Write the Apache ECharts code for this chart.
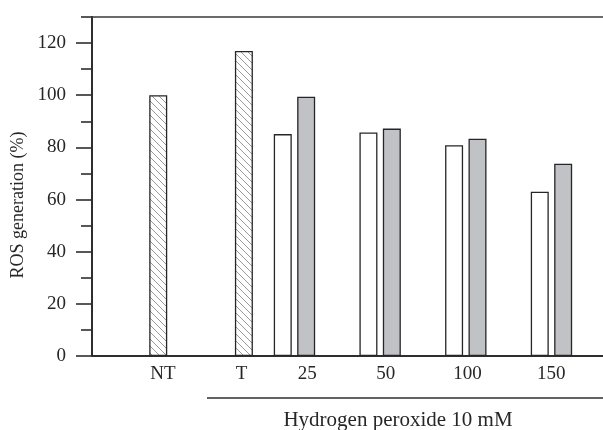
<!DOCTYPE html>
<html><head><meta charset="utf-8">
<script src="https://cdn.jsdelivr.net/npm/echarts@6/dist/echarts.min.js"></script>
<style>html,body{margin:0;padding:0;background:#fff}#c{width:603px;height:430px}</style>
</head><body><div id="c"></div>
<script>
// ---- data ----
const categories = ['NT', 'T', '25', '50', '100', '150'];
const controlValues = [100, 117, '-', '-', '-', '-'];
const whiteValues = ['-', '-', 85.1, 85.7, 80.8, 63.0];
const greyValues = ['-', '-', 99.4, 87.2, 83.3, 73.7];
const majorTicks = [0, 20, 40, 60, 80, 100, 120];
const minorTicks = [10, 30, 50, 70, 90, 110, 130];
const yName = 'ROS generation (%)';
const groupLabel = 'Hydrogen peroxide 10 mM';

// ---- styles ----
const FONT = '"Liberation Serif", "DejaVu Serif", serif';
const TXT = '#262626';
const LINE = '#2e2e2e';
const labelShift = [28, 21, 1, -6, -10, -12];

// hatch pattern
const s = 7;
const cv = document.createElement('canvas');
cv.width = s; cv.height = s;
const ctx = cv.getContext('2d');
ctx.fillStyle = '#ffffff'; ctx.fillRect(0, 0, s, s);
ctx.strokeStyle = '#9a9a9a'; ctx.lineWidth = 1;
ctx.beginPath();
for (let k = -1; k <= 1; k++) { ctx.moveTo(0, k * s); ctx.lineTo(s, k * s + s); }
ctx.stroke();

const rich = {};
labelShift.forEach((d, i) => {
  rich['s' + i] = {
    fontFamily: FONT, fontSize: 19, color: TXT,
    padding: d >= 0 ? [0, 0, 0, 2 * d] : [0, -2 * d, 0, 0]
  };
});

const chart = echarts.init(document.getElementById('c'), null, {renderer: 'canvas'});
const gridRect = {left: 92, top: 17, right: -3, bottom: 74, outerBoundsMode: 'none'};
const barBorder = {borderColor: '#262626', borderWidth: 1.3};

chart.setOption({
  animation: false,
  backgroundColor: '#ffffff',
  grid: [Object.assign({}, gridRect), Object.assign({}, gridRect)],
  xAxis: [
    {
      type: 'category', data: categories, gridIndex: 0, position: 'bottom',
      axisLine: {lineStyle: {color: LINE, width: 2}},
      axisTick: {show: false},
      axisLabel: {
        interval: 0, margin: 9,
        formatter: (v, i) => '{s' + i + '|' + v + '}',
        rich: rich
      },
      splitLine: {show: false}
    },
    {
      type: 'category', data: categories, gridIndex: 0, position: 'top',
      axisLine: {lineStyle: {color: '#3a3a3a', width: 1.6}},
      axisTick: {show: false}, axisLabel: {show: false}, splitLine: {show: false}
    },
    {type: 'value', gridIndex: 1, show: false}
  ],
  yAxis: [
    {
      type: 'value', gridIndex: 0, min: 0, max: 130, interval: 10,
      axisLine: {show: true, lineStyle: {color: LINE, width: 2}},
      axisTick: {show: true, customValues: majorTicks, length: 16, lineStyle: {color: LINE, width: 1.6}},
      axisLabel: {customValues: majorTicks, margin: 26, fontFamily: FONT, fontSize: 19, color: TXT},
      splitLine: {show: false}
    },
    {
      type: 'value', gridIndex: 1, min: 0, max: 130, interval: 10,
      axisLine: {show: false},
      axisTick: {show: true, customValues: minorTicks, length: 11, lineStyle: {color: LINE, width: 1.6}},
      axisLabel: {show: false},
      splitLine: {show: false}
    }
  ],
  series: [
    {type: 'bar', name: 'treated', xAxisIndex: 0, yAxisIndex: 0, data: whiteValues,
     barWidth: 18, barGap: '30%', itemStyle: Object.assign({color: '#ffffff'}, barBorder)},
    {type: 'bar', name: 'treated2', xAxisIndex: 0, yAxisIndex: 0, data: greyValues,
     barWidth: 18, barGap: '30%', itemStyle: Object.assign({color: '#c1c2c5'}, barBorder)},
    {type: 'bar', name: 'control', xAxisIndex: 0, yAxisIndex: 0, data: controlValues,
     barWidth: 18, barGap: '30%', itemStyle: Object.assign({color: {image: cv, repeat: 'repeat'}}, barBorder)}
  ],
  graphic: [
    {type: 'text', x: 18, y: 205, rotation: Math.PI / 2,
     style: {text: yName, font: '18px ' + FONT, fill: TXT, align: 'center', verticalAlign: 'middle'}},
    {type: 'line', shape: {x1: 207, y1: 398, x2: 603, y2: 398},
     style: {stroke: LINE, lineWidth: 1.6}},
    {type: 'text', x: 398, y: 420,
     style: {text: groupLabel, font: '21px ' + FONT, fill: TXT, align: 'center', verticalAlign: 'middle'}}
  ]
});
</script>
</body></html>
